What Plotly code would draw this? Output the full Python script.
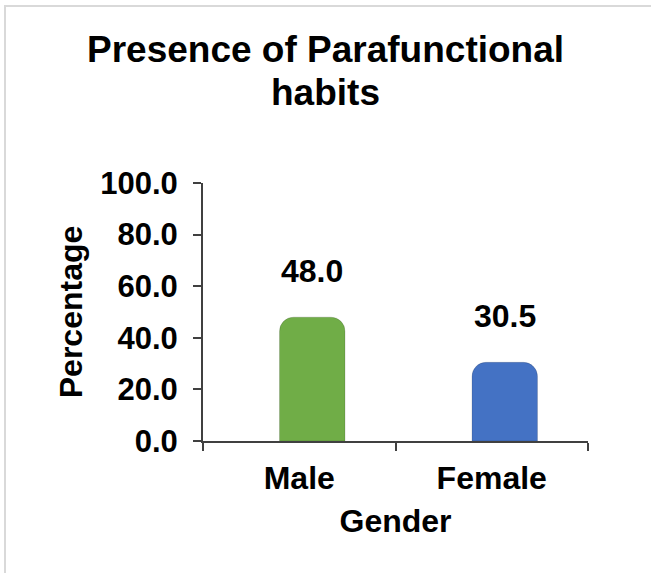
import plotly.graph_objects as go

categories = ["Male", "Female"]
values = [48.0, 30.5]
bar_colors = ["#70AD47", "#4472C4"]
y_ticks = [0, 20, 40, 60, 80, 100]
y_tick_labels = ["0.0", "20.0", "40.0", "60.0", "80.0", "100.0"]
title_lines = ["Presence of Parafunctional", "habits"]
x_title = "Gender"
y_title = "Percentage"

W, H = 651, 573
L, R, T, B = 203, 63, 183, 132
pw, ph = W - L - R, H - T - B

FONT = "Liberation Sans, Arial, sans-serif"
BAR_W = 0.34
BAR_SHIFT_PX = 13  # 3-D depth offset of the bars in the original
shift_units = BAR_SHIFT_PX / (pw / len(categories))


def py(pix):
    """pixel row -> paper y"""
    return (H - B - pix) / ph


def px(pix):
    return (pix - L) / pw


fig = go.Figure()
fig.add_trace(go.Bar(
    x=categories, y=values,
    marker=dict(color=bar_colors, cornerradius=14,
                line=dict(color="rgba(0,0,0,0.15)", width=1)),
    width=BAR_W, offset=-BAR_W / 2 + shift_units, hoverinfo="x+y",
))

annotations = []
for c, v in zip(categories, values):
    annotations.append(dict(
        x=c, y=v, xref="x", yref="y", text=f"{v:.1f}", showarrow=False,
        yanchor="middle", yshift=46, xshift=BAR_SHIFT_PX,
        font=dict(family=FONT, size=32, color="#000000", weight="bold"),
    ))

# chart title (two centred lines)
for line, base in zip(title_lines, [62, 105]):
    annotations.append(dict(
        x=(W / 2 - L) / pw, y=py(base - 13), xref="paper", yref="paper",
        text=line, showarrow=False, xanchor="center", yanchor="middle",
        font=dict(family=FONT, size=37, color="#000000", weight="bold"),
    ))

fig.update_layout(
    width=W, height=H,
    margin=dict(l=L, r=R, t=T, b=B, autoexpand=False),
    paper_bgcolor="white", plot_bgcolor="white",
    showlegend=False,
    annotations=annotations,
    shapes=[dict(type="rect", xref="paper", yref="paper",
                 x0=px(5), x1=px(W + 5),
                 y0=py(H + 5), y1=py(6),
                 line=dict(color="#d9d9d9", width=2), layer="below")],
)

fig.update_xaxes(
    type="category", range=[-0.5, 1.5], automargin=False,
    showline=True, linecolor="#404040", linewidth=2,
    ticks="outside", ticklen=8, tickwidth=2, tickcolor="#404040",
    tickson="boundaries", showgrid=False, zeroline=False,
    tickfont=dict(family=FONT, size=32, color="#000000", weight="bold"),
    ticklabelstandoff=8,
    title=dict(text=x_title, standoff=14,
               font=dict(family=FONT, size=32, color="#000000", weight="bold")),
)
fig.update_yaxes(
    range=[0, 100], tickvals=y_ticks, ticktext=y_tick_labels, automargin=False,
    showline=True, linecolor="#404040", linewidth=2,
    ticks="outside", ticklen=8, tickwidth=2, tickcolor="#404040",
    showgrid=False, zeroline=False,
    tickfont=dict(family=FONT, size=31, color="#000000", weight="bold"),
    ticklabelstandoff=9,
    title=dict(text=y_title, standoff=8,
               font=dict(family=FONT, size=32, color="#000000", weight="bold")),
)

fig.write_html("out.html", config={"displayModeBar": False},
               post_script="document.body.style.margin='0';")
